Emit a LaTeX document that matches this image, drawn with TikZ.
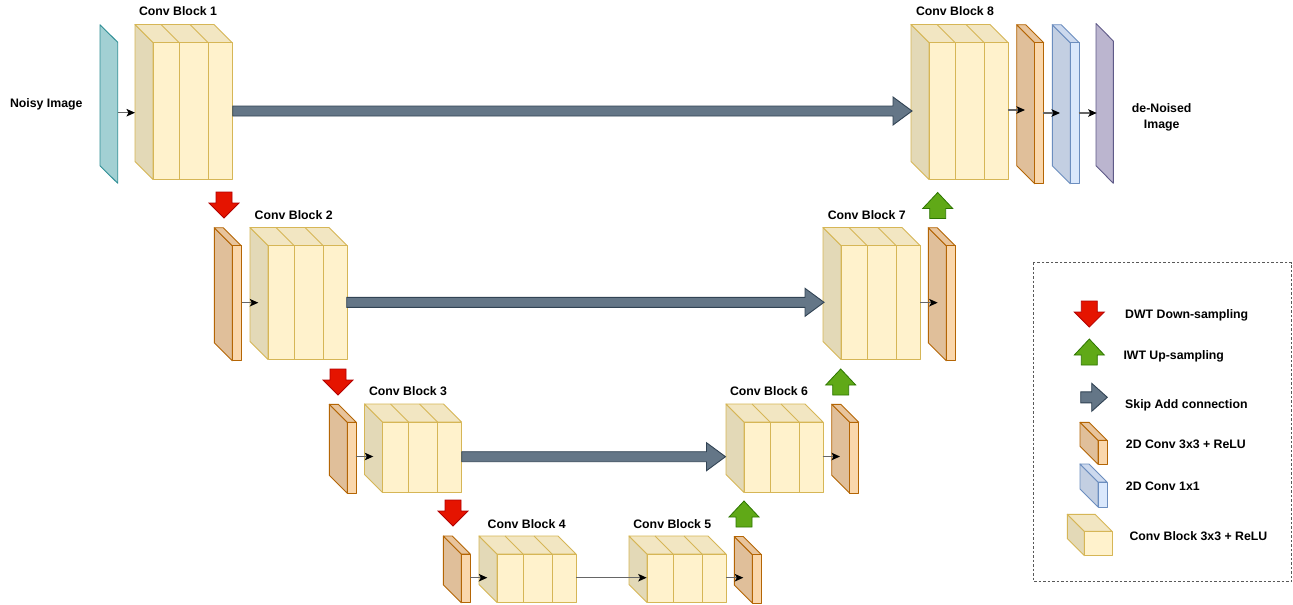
\documentclass[tikz,border=0pt]{standalone}
\usepackage{fontspec}
\setmainfont{Liberation Sans}
\usetikzlibrary{arrows.meta,calc}
\definecolor{yfr}{HTML}{FFF2CC}
\definecolor{ytp}{HTML}{F2E6C2}
\definecolor{ysd}{HTML}{E3D9B7}
\definecolor{yst}{HTML}{D6B656}
\definecolor{ofr}{HTML}{FAD7AC}
\definecolor{otp}{HTML}{E8C49C}
\definecolor{osd}{HTML}{E0BF9A}
\definecolor{ost}{HTML}{B46504}
\definecolor{bfr}{HTML}{DAE8FC}
\definecolor{btp}{HTML}{CCD9EE}
\definecolor{bsd}{HTML}{C3CFE2}
\definecolor{bst}{HTML}{6C8EBF}
\definecolor{tfl}{HTML}{A2D0D3}
\definecolor{tst}{HTML}{2E8E95}
\definecolor{pfl}{HTML}{BBB5CF}
\definecolor{pst}{HTML}{5F5A88}
\definecolor{skf}{HTML}{647687}
\definecolor{sks}{HTML}{314354}
\definecolor{rdf}{HTML}{E51400}
\definecolor{rds}{HTML}{B20000}
\definecolor{gnf}{HTML}{60A917}
\definecolor{gns}{HTML}{2D7600}
\tikzset{
  shp/.style={line width=0.9pt, line join=round},
  yelside/.style={shp, fill=ysd, draw=yst},
  yeltop/.style={shp, fill=ytp, draw=yst},
  yelfront/.style={shp, fill=yfr, draw=yst},
  yelline/.style={line width=0.9pt, draw=yst},
  orgside/.style={shp, fill=osd, draw=ost},
  orgtop/.style={shp, fill=otp, draw=ost},
  orgfront/.style={shp, fill=ofr, draw=ost},
  bluside/.style={shp, fill=bsd, draw=bst},
  blutop/.style={shp, fill=btp, draw=bst},
  blufront/.style={shp, fill=bfr, draw=bst},
  teal/.style={shp, fill=tfl, draw=tst},
  purp/.style={shp, fill=pfl, draw=pst},
  skiparrowstyle/.style={fill=skf, draw=sks, line width=0.9pt, line join=miter},
  downred/.style={fill=rdf, draw=rds, line width=0.8pt},
  upgreen/.style={fill=gnf, draw=gns, line width=0.8pt},
  conn/.style={draw=black!60, line width=1.1pt, -{Stealth[length=8.5pt,width=7.5pt,inset=2pt,black]}},
  lbl/.style={font=\fontsize{12.3}{14.5}\selectfont\bfseries, inner sep=0pt},
  legbox/.style={draw=black!65, line width=0.8pt, dash pattern=on 2.5pt off 2pt},
}
% x y w h d style-prefix
\newcommand\ucube[6]{%
  \filldraw[#6side] (#1,#2) -- ({#1+#5},{#2+#5}) -- ({#1+#5},{#2+#5+#4}) -- (#1,{#2+#4}) -- cycle;
  \filldraw[#6top] (#1,#2) -- ({#1+#3},#2) -- ({#1+#3+#5},{#2+#5}) -- ({#1+#5},{#2+#5}) -- cycle;
  \filldraw[#6front] ({#1+#5},{#2+#5}) rectangle ({#1+#5+#3},{#2+#5+#4});
}
% conv block: x y h
\newcommand\ublock[3]{%
  \ucube{#1}{#2}{79}{#3}{18}{yel}
  \foreach \q in {26,55} {
    \draw[yelline] ({#1+18+\q},{#2+18}) -- ({#1+18+\q},{#2+18+#3});
    \draw[yelline] ({#1+\q},#2) -- ({#1+18+\q},{#2+18});
  }
}
% thin plane: x y h style
\newcommand\uplane[4]{\ucube{#1}{#2}{9}{#3}{18}{#4}}
% skip arrow: from, to, head length, half head, half shaft
\newcommand\skiparr[5]{%
  \path[skiparrowstyle] let \p1=(#1), \p2=(#2) in
   (\x1,\y1+#5pt) -- (\x2-#3pt,\y1+#5pt) -- (\x2-#3pt,\y1+#4pt) -- (\x2,\y1)
   -- (\x2-#3pt,\y1-#4pt) -- (\x2-#3pt,\y1-#5pt) -- (\x1,\y1-#5pt) -- cycle;
}
% down arrow: cx, top y
\newcommand\downarr[2]{%
  \filldraw[downred] ({#1-8},#2) -- ({#1+8},#2) -- ({#1+8},{#2+11}) -- ({#1+15},{#2+11})
   -- (#1,{#2+26}) -- ({#1-15},{#2+11}) -- ({#1-8},{#2+11}) -- cycle;
}
% up arrow: cx, tip y
\newcommand\uparr[2]{%
  \filldraw[upgreen] (#1,#2) -- ({#1+15},{#2+16}) -- ({#1+8},{#2+16}) -- ({#1+8},{#2+26})
   -- ({#1-8},{#2+26}) -- ({#1-8},{#2+16}) -- ({#1-15},{#2+16}) -- cycle;
}
\begin{document}
\begin{tikzpicture}[x=1pt,y=-1pt]
\useasboundingbox (0,0) rectangle (1293,605);
\fill[white] (0,0) rectangle (1293,605);

% ---------- level 1 ----------
\filldraw[teal] (100,24.7) -- (117.7,42.3) -- (117.7,183.3) -- (100,165.7) -- cycle;
\ublock{135}{24.5}{137}
\ublock{911}{24.5}{137}
\uplane{1016.7}{24.7}{141}{org}
\uplane{1052.3}{24.7}{141}{blu}
\filldraw[purp] (1096,23.5) -- (1113.3,41) -- (1113.3,183.3) -- (1096,165.7) -- cycle;

\node[lbl] (noisylbl) at (46.3,104) {Noisy Image};
\node[lbl, align=center, font=\fontsize{12.3}{15.5}\selectfont\bfseries] (denoisedlbl) at (1161.7,117.5) {de-Noised\\Image};
\node[lbl] (cb1) at (178,11) {Conv Block 1};
\node[lbl] (cb8) at (955,11) {Conv Block 8};

\coordinate (noisy-out) at (117.7,112.7);
\coordinate (b1-in) at (135,112.7);
\coordinate (b1-out) at (232.7,111);
\coordinate (b8-in) at (912,111);
\coordinate (b8-out) at (1008,110);
\coordinate (o8-in) at (1025,110);
\coordinate (o8-out) at (1043.3,113);
\coordinate (c8-in) at (1060,113);
\coordinate (c8-out) at (1078.7,113);
\coordinate (p8-in) at (1096.7,113);

\draw[conn] (noisy-out) -- (b1-in);
\skiparr{b1-out}{b8-in}{19}{14}{5}
\draw[conn] (b8-out) -- (o8-in);
\draw[conn] (o8-out) -- (c8-in);
\draw[conn] (c8-out) -- (p8-in);

\downarr{224}{192}
\uparr{937.7}{192.5}

% ---------- level 2 ----------
\uplane{214.3}{227.7}{115}{org}
\ublock{250}{227.5}{114}
\ublock{823}{227.5}{114}
\uplane{928.3}{227.7}{115}{org}
\node[lbl] (cb2) at (293.7,215) {Conv Block 2};
\node[lbl] (cb7) at (866.7,215) {Conv Block 7};

\coordinate (o2-out) at (241.7,302.7);
\coordinate (b2-in) at (258.3,302.7);
\coordinate (b2-out) at (346.7,302.3);
\coordinate (b7-in) at (824,302.3);
\coordinate (b7-out) at (920,302.7);
\coordinate (o7-in) at (937.7,302.7);
\draw[conn] (o2-out) -- (b2-in);
\skiparr{b2-out}{b7-in}{19}{14}{5}
\draw[conn] (b7-out) -- (o7-in);

\downarr{338}{369}
\uparr{840.7}{369}

% ---------- level 3 ----------
\uplane{329.3}{404.3}{71}{org}
\ublock{364.5}{404}{70.5}
\ublock{726}{404}{70.5}
\uplane{831.7}{404.3}{71}{org}
\node[lbl] (cb3) at (408,391.5) {Conv Block 3};
\node[lbl] (cb6) at (769,391) {Conv Block 6};

\coordinate (o3-out) at (355.7,456.5);
\coordinate (b3-in) at (373.3,456.5);
\coordinate (b3-out) at (461.7,456.7);
\coordinate (b6-in) at (725.5,456.7);
\coordinate (b6-out) at (822.7,456.5);
\coordinate (o6-in) at (840,456.5);
\draw[conn] (o3-out) -- (b3-in);
\skiparr{b3-out}{b6-in}{19}{14}{5}
\draw[conn] (b6-out) -- (o6-in);

\downarr{453}{500}
\uparr{744}{501}

% ---------- level 4 ----------
\uplane{443.3}{536}{48.7}{org}
\ublock{479}{536}{48.5}
\ublock{629}{536}{48.5}
\uplane{734.3}{536.5}{48.5}{org}
\node[lbl] (cb4) at (526.7,524) {Conv Block 4};
\node[lbl] (cb5) at (672.3,524) {Conv Block 5};

\coordinate (o4-out) at (470,577.7);
\coordinate (b4-in) at (487.3,577.7);
\coordinate (b4-out) at (576,577.7);
\coordinate (b5-in) at (646.7,577.7);
\coordinate (b5-out) at (726,577.7);
\coordinate (o5-in) at (743.3,577.7);
\draw[conn] (o4-out) -- (b4-in);
\draw[conn] (b4-out) -- (b5-in);
\draw[conn] (b5-out) -- (o5-in);

% ---------- legend ----------
\draw[legbox] (1033.3,262.7) rectangle (1291.5,581.5);
\downarr{1089.3}{301}
\node[lbl, anchor=west] (lg1) at (1125,315) {DWT Down-sampling};
\uparr{1089.3}{339}
\node[lbl, anchor=west] (lg2) at (1123.3,356.7) {IWT Up-sampling};
\coordinate (lgs-a) at (1080.7,397.3);
\coordinate (lgs-b) at (1107.3,397.3);
\skiparr{lgs-a}{lgs-b}{15.6}{14}{5.5}
\node[lbl, anchor=west] (lg3) at (1125,405) {Skip Add connection};
\ucube{1080}{422.3}{9}{24}{18}{org}
\node[lbl, anchor=west] (lg4) at (1125.7,444.3) {2D Conv 3x3 + ReLU};
\ucube{1080}{464}{9}{25}{18}{blu}
\node[lbl, anchor=west] (lg5) at (1125.7,486) {2D Conv 1x1};
\ucube{1067.3}{514.3}{27.7}{24.3}{17}{yel}
\node[lbl, anchor=west] (lg6) at (1129.3,536) {Conv Block 3x3 + ReLU};
\end{tikzpicture}
\end{document}
